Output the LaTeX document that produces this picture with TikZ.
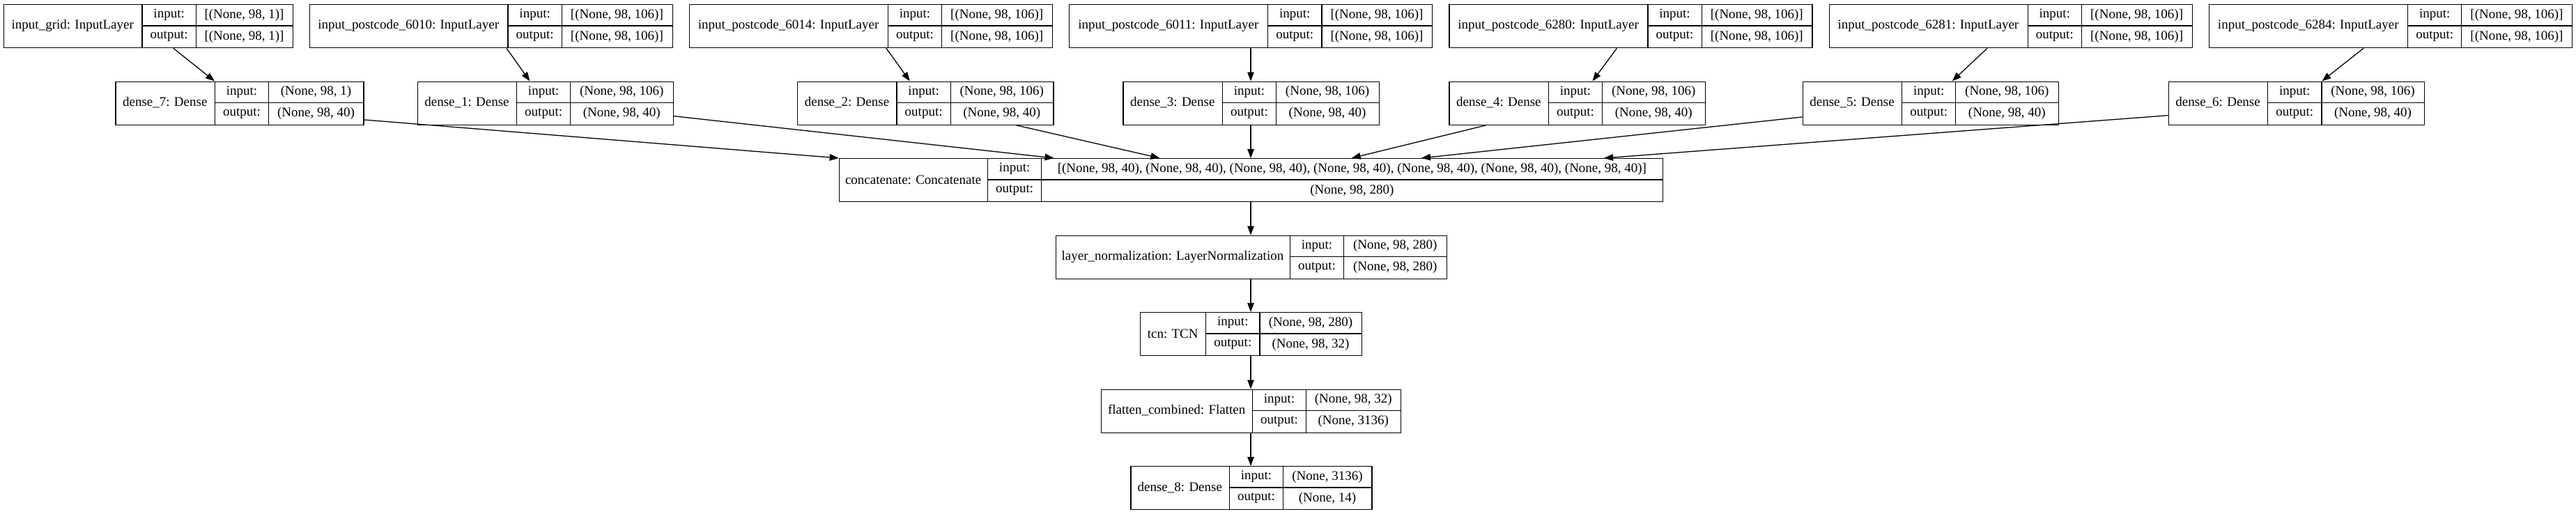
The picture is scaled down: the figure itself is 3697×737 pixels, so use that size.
\documentclass[tikz,border=0pt]{standalone}
\usepackage{fontspec}
\setmainfont{Liberation Serif}
\usetikzlibrary{arrows.meta}
\tikzset{
  box/.style={draw=black, line width=1.3pt, inner sep=0pt, minimum height=62pt},
  sep/.style={draw=black, line width=1.3pt},
  txt/.style={inner sep=0pt, font=\fontsize{19}{22}\selectfont},
  arr/.style={draw=black, line width=1.3pt, -{Triangle[length=13pt,width=9.5pt]}}
}
\newcommand\lay[9]{%
  \node[box, minimum width={(#5-#2)*1pt}, anchor=north west] (#1) at (#2,#6) {};
  \draw[sep] (#3,#6) -- ({#3},{#6+62});
  \draw[sep] (#4,#6) -- ({#4},{#6+62});
  \draw[sep] ({#3},{#6+31}) -- ({#5},{#6+31});
  \node[txt] (#1-l) at ({(#2+#3)/2},{#6+31}) {#7};
  \node[txt] (#1-ki) at ({(#3+#4)/2},{#6+15.5}) {input:};
  \node[txt] (#1-ko) at ({(#3+#4)/2},{#6+46.5}) {output:};
  \node[txt] (#1-vi) at ({(#4+#5)/2},{#6+15.5}) {#8};
  \node[txt] (#1-vo) at ({(#4+#5)/2},{#6+46.5}) {#9};
}
\begin{document}
\begin{tikzpicture}[x=1pt,y=-1pt]
\useasboundingbox (0,0) rectangle (3697,737);
% row 1
\lay{ig}{4.6}{204}{281.3}{419.8}{6}{input\_grid: InputLayer}{[(None, 98, 1)]}{[(None, 98, 1)]}
\lay{pa}{443.5}{729}{806.3}{964.5}{6}{input\_postcode\_6010: InputLayer}{[(None, 98, 106)]}{[(None, 98, 106)]}
\lay{pb}{988.8}{1274.3}{1351.6}{1509.8}{6}{input\_postcode\_6014: InputLayer}{[(None, 98, 106)]}{[(None, 98, 106)]}
\lay{pc}{1534.1}{1819.6}{1896.9}{2055.1}{6}{input\_postcode\_6011: InputLayer}{[(None, 98, 106)]}{[(None, 98, 106)]}
\lay{pd}{2079.4}{2364.9}{2442.2}{2600.4}{6}{input\_postcode\_6280: InputLayer}{[(None, 98, 106)]}{[(None, 98, 106)]}
\lay{pe}{2624.7}{2910.2}{2987.5}{3145.7}{6}{input\_postcode\_6281: InputLayer}{[(None, 98, 106)]}{[(None, 98, 106)]}
\lay{pf}{3170}{3455.5}{3532.8}{3691}{6}{input\_postcode\_6284: InputLayer}{[(None, 98, 106)]}{[(None, 98, 106)]}
% row 2
\lay{d7}{165.3}{308.3}{385.6}{521.3}{116.5}{dense\_7: Dense}{(None, 98, 1)}{(None, 98, 40)}
\lay{d1}{598.5}{741.5}{818.8}{965.8}{116.5}{dense\_1: Dense}{(None, 98, 106)}{(None, 98, 40)}
\lay{d2}{1144}{1287}{1364.3}{1511.3}{116.5}{dense\_2: Dense}{(None, 98, 106)}{(None, 98, 40)}
\lay{d3}{1611.3}{1754.3}{1831.6}{1978.6}{116.5}{dense\_3: Dense}{(None, 98, 106)}{(None, 98, 40)}
\lay{d4}{2079.4}{2222.4}{2299.7}{2446.7}{116.5}{dense\_4: Dense}{(None, 98, 106)}{(None, 98, 40)}
\lay{d5}{2586.5}{2729.5}{2806.8}{2953.8}{116.5}{dense\_5: Dense}{(None, 98, 106)}{(None, 98, 40)}
\lay{d6}{3111.6}{3254.6}{3331.9}{3478.9}{116.5}{dense\_6: Dense}{(None, 98, 106)}{(None, 98, 40)}
% main column
\lay{cc}{1203.7}{1417.5}{1494.8}{2386}{227}{concatenate: Concatenate}{[(None, 98, 40), (None, 98, 40), (None, 98, 40), (None, 98, 40), (None, 98, 40), (None, 98, 40), (None, 98, 40)]}{(None, 98, 280)}
\lay{ln}{1514.5}{1851.3}{1928.6}{2076}{337.5}{layer\_normalization: LayerNormalization}{(None, 98, 280)}{(None, 98, 280)}
\lay{tc}{1635.7}{1730.7}{1808}{1954}{448}{tcn: TCN}{(None, 98, 280)}{(None, 98, 32)}
\lay{fl}{1580}{1797.3}{1874.6}{2010}{558.5}{flatten\_combined: Flatten}{(None, 98, 32)}{(None, 3136)}
\lay{d8}{1622.3}{1764.3}{1841.6}{1968.3}{669}{dense\_8: Dense}{(None, 3136)}{(None, 14)}
% inputs -> dense
\draw[arr] ([xshift=244.2pt]ig.south west) -- ([xshift=142.7pt]d7.north west);
\draw[arr] ([xshift=283.5pt]pa.south west) -- ([xshift=161.9pt]d1.north west);
\draw[arr] ([xshift=283.1pt]pb.south west) -- ([xshift=161.8pt]d2.north west);
\draw[arr] ([xshift=260.9pt]pc.south west) -- ([xshift=183.7pt]d3.north west);
\draw[arr] ([xshift=241pt]pd.south west) -- ([xshift=206.1pt]d4.north west);
\draw[arr] ([xshift=227.3pt]pe.south west) -- ([xshift=215.2pt]d5.north west);
\draw[arr] ([xshift=222pt]pf.south west) -- ([xshift=220.8pt]d6.north west);
% dense -> concatenate
\draw[arr] ([yshift=-55.5pt]d7.north east) -- (cc.north west);
\draw[arr] ([yshift=-50.2pt]d1.north east) -- ([xshift=308.9pt]cc.north west);
\draw[arr] ([xshift=314.5pt]d2.south west) -- ([xshift=460.7pt]cc.north west);
\draw[arr] ([xshift=183.7pt]d3.south west) -- ([xshift=591.3pt]cc.north west);
\draw[arr] ([xshift=53.5pt]d4.south west) -- ([xshift=736pt]cc.north west);
\draw[arr] ([yshift=-51.5pt]d5.north west) -- ([xshift=836.3pt]cc.north west);
\draw[arr] ([yshift=-49.2pt]d6.north west) -- ([xshift=1098.3pt]cc.north west);
% main chain
\draw[arr] ([xshift=591.3pt]cc.south west) -- ([xshift=280.5pt]ln.north west);
\draw[arr] ([xshift=280.5pt]ln.south west) -- ([xshift=159.3pt]tc.north west);
\draw[arr] ([xshift=159.3pt]tc.south west) -- ([xshift=215pt]fl.north west);
\draw[arr] ([xshift=215pt]fl.south west) -- ([xshift=172.7pt]d8.north west);
\end{tikzpicture}
\end{document}
